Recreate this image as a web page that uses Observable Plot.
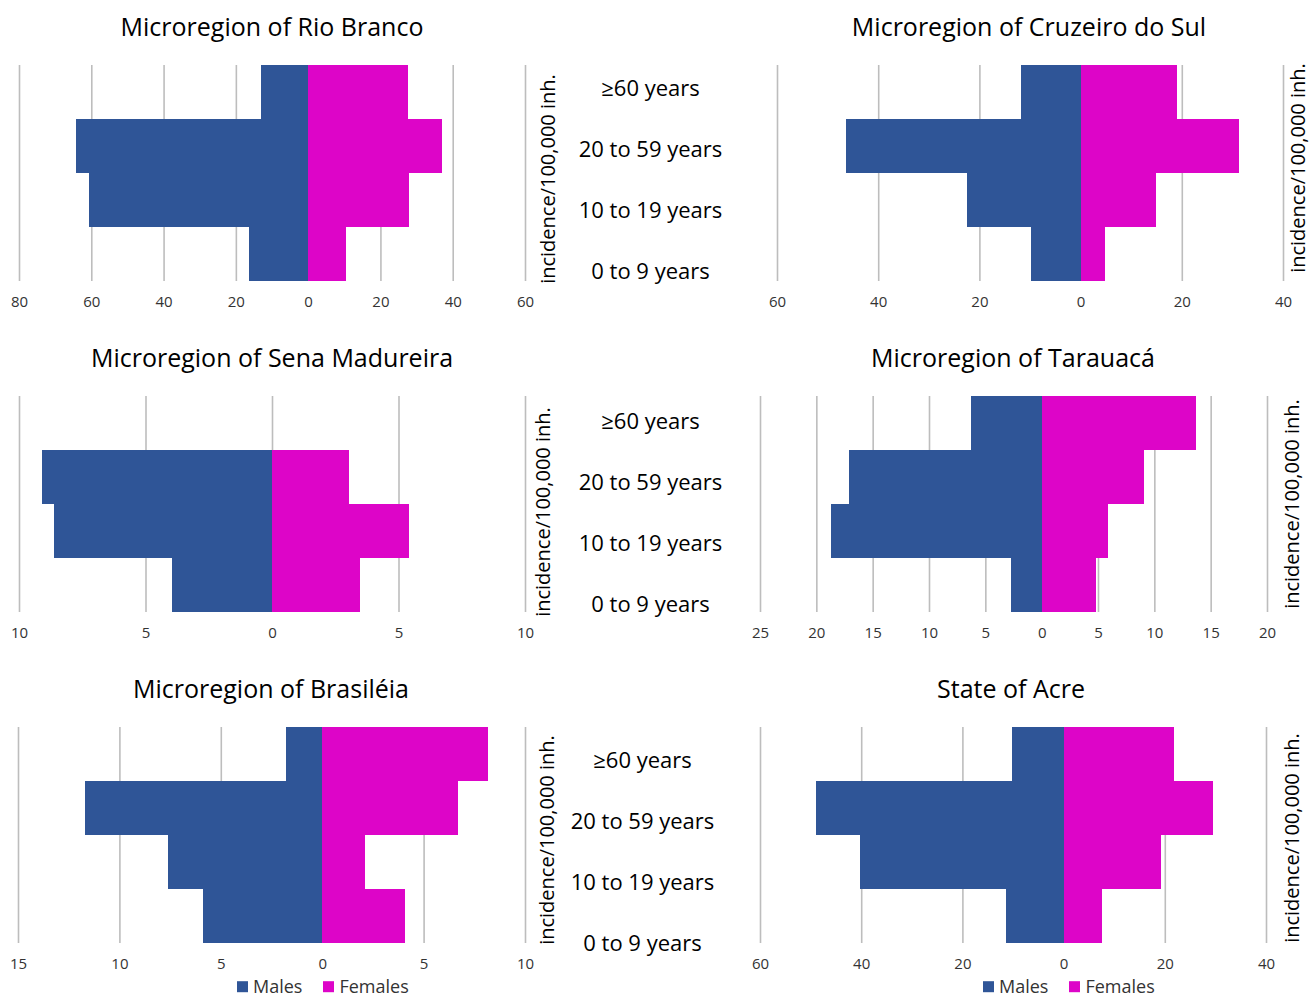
<!DOCTYPE html>
<html><head><meta charset="utf-8">
<script src="https://cdn.jsdelivr.net/npm/d3@7"></script>
<script src="https://cdn.jsdelivr.net/npm/@observablehq/plot@0.6"></script>
<style>
body{margin:0;background:#fff;font-family:"Open Sans",sans-serif;}
#root{position:relative;width:1313px;height:998px;overflow:hidden;background:#fff;}
.title{font-size:25px;color:#000;white-space:nowrap;transform:translate(-50%,-50%);line-height:1.2;}
.ylab{font-size:20px;color:#000;white-space:nowrap;transform:translate(-50%,-50%) rotate(-90deg);line-height:1.2;}
.legend{font-size:18px;color:#333;display:flex;align-items:center;white-space:nowrap;transform:translateY(-50%);line-height:1.2;}
.sw{display:inline-block;width:11px;height:11px;margin-right:5px;}
.item{display:flex;align-items:center;margin-right:21px;}
</style></head><body><div id="root"></div>
<script>
// ---- data ----
const ageGroups = ["≥60 years", "20 to 59 years", "10 to 19 years", "0 to 9 years"];
const sexes = ["Males", "Females"];
const sexColors = ["#2f5597", "#dd05c8"];
const axisLabel = "incidence/100,000 inh.";

const regionNames = [
  "Microregion of Rio Branco", "Microregion of Cruzeiro do Sul",
  "Microregion of Sena Madureira", "Microregion of Tarauacá",
  "Microregion of Brasiléia", "State of Acre"
];

const malesRioBranco     = [13.0, 64.1, 60.5, 16.4];
const femalesRioBranco   = [27.7, 37.1, 28.0, 10.4];
const malesCruzeiro      = [11.7, 46.4, 22.4, 9.8];
const femalesCruzeiro    = [19.1, 31.4, 14.9, 4.8];
const malesSena          = [0, 9.1, 8.6, 3.94];
const femalesSena        = [0, 3.06, 5.42, 3.48];
const malesTarauaca      = [6.3, 17.1, 18.7, 2.7];
const femalesTarauaca    = [13.7, 9.1, 5.9, 4.8];
const malesBrasileia     = [1.78, 11.7, 7.58, 5.9];
const femalesBrasileia   = [8.18, 6.68, 2.12, 4.07];
const malesAcre          = [10.2, 49.0, 40.2, 11.3];
const femalesAcre        = [21.8, 29.6, 19.2, 7.6];

const ticksRioBranco = [-80, -60, -40, -20, 0, 20, 40, 60];
const ticksCruzeiro  = [-60, -40, -20, 0, 20, 40];
const ticksSena      = [-10, -5, 0, 5, 10];
const ticksTarauaca  = [-25, -20, -15, -10, -5, 0, 5, 10, 15, 20];
const ticksBrasileia = [-15, -10, -5, 0, 5, 10];
const ticksAcre      = [-60, -40, -20, 0, 20, 40];

// ---- layout ----
const panels = [
  {name: regionNames[0], males: malesRioBranco, females: femalesRioBranco, ticks: ticksRioBranco,
   x0: 19, x1: 525, y0: 65, y1: 281, tx: 272, ty: 26, lx: 548, ly: 179, legend: null},
  {name: regionNames[1], males: malesCruzeiro, females: femalesCruzeiro, ticks: ticksCruzeiro,
   x0: 777, x1: 1283, y0: 65, y1: 281, tx: 1029, ty: 26, lx: 1298, ly: 168, legend: null},
  {name: regionNames[2], males: malesSena, females: femalesSena, ticks: ticksSena,
   x0: 19, x1: 525, y0: 396, y1: 612, tx: 272, ty: 357, lx: 543, ly: 512, legend: null},
  {name: regionNames[3], males: malesTarauaca, females: femalesTarauaca, ticks: ticksTarauaca,
   x0: 760, x1: 1267, y0: 396, y1: 612, tx: 1013, ty: 357, lx: 1292, ly: 504, legend: null},
  {name: regionNames[4], males: malesBrasileia, females: femalesBrasileia, ticks: ticksBrasileia,
   x0: 18, x1: 525, y0: 727, y1: 943, tx: 271, ty: 688, lx: 547, ly: 840, legend: 237},
  {name: regionNames[5], males: malesAcre, females: femalesAcre, ticks: ticksAcre,
   x0: 760, x1: 1266, y0: 727, y1: 943, tx: 1011, ty: 688, lx: 1292, ly: 838, legend: 983}
];
const labelCols = [
  {cx: 650, top: 57, bottom: 303},
  {cx: 650, top: 390, bottom: 636},
  {cx: 642, top: 728, bottom: 975}
];

const root = document.getElementById("root");
function place(el, left, top) {
  el.style.position = "absolute";
  el.style.left = left + "px";
  el.style.top = top + "px";
  root.appendChild(el);
  return el;
}

const mT = 5, mB = 35, mL = 20, mR = 20;
for (const p of panels) {
  const rows = [];
  ageGroups.forEach((age, i) => {
    rows.push({age, sex: "Males", value: -p.males[i]});
    rows.push({age, sex: "Females", value: p.females[i]});
  });
  const w = (p.x1 - p.x0) + mL + mR;
  const h = (p.y1 - p.y0) + mT + mB;
  const chart = Plot.plot({
    width: w, height: h,
    marginLeft: mL, marginRight: mR, marginTop: mT, marginBottom: mB,
    style: {fontFamily: "Open Sans", fontSize: "15px", color: "#333", background: "transparent", overflow: "visible"},
    x: {domain: [p.ticks[0], p.ticks[p.ticks.length - 1]], axis: null, label: null},
    y: {type: "band", domain: ageGroups, padding: 0, axis: null, label: null},
    color: {domain: sexes, range: sexColors},
    marks: [
      Plot.ruleX(p.ticks, {stroke: "#bdbdbd", strokeWidth: 1.6}),
      Plot.barX(rows, {x1: 0, x2: "value", y: "age", fill: "sex", shapeRendering: "crispEdges"}),
      Plot.axisX({ticks: p.ticks, tickFormat: d => String(Math.abs(d)), tickSize: 0, tickPadding: 15, fontSize: 15, anchor: "bottom", label: null})
    ]
  });
  place(chart, p.x0 - mL, p.y0 - mT);

  const t = document.createElement("div");
  t.className = "title"; t.textContent = p.name;
  place(t, p.tx, p.ty);

  const yl = document.createElement("div");
  yl.className = "ylab"; yl.textContent = axisLabel;
  place(yl, p.lx, p.ly);

  if (p.legend !== null) {
    const lg = document.createElement("div");
    lg.className = "legend";
    sexes.forEach((s, i) => {
      const it = document.createElement("span");
      it.className = "item";
      const sw = document.createElement("span");
      sw.className = "sw"; sw.style.background = sexColors[i];
      it.appendChild(sw);
      it.appendChild(document.createTextNode(s));
      lg.appendChild(it);
    });
    place(lg, p.legend, 987);
  }
}

for (const c of labelCols) {
  const lw = 200;
  const lab = Plot.plot({
    width: lw, height: c.bottom - c.top,
    margin: 0,
    style: {fontFamily: "Open Sans", background: "transparent", overflow: "visible"},
    y: {type: "band", domain: ageGroups, padding: 0, axis: null},
    marks: [
      Plot.text(ageGroups, {y: d => d, text: d => d, frameAnchor: "middle", fontSize: 22, fill: "#000"})
    ]
  });
  place(lab, c.cx - lw / 2, c.top);
}
</script></body></html>
